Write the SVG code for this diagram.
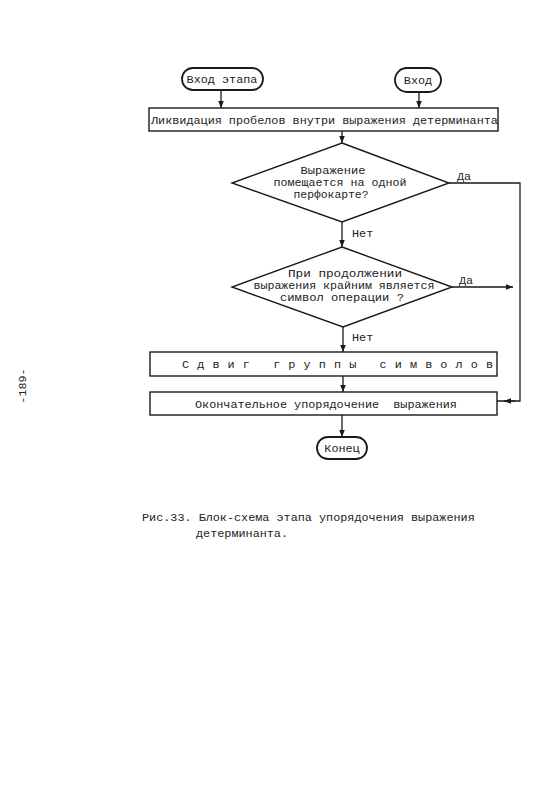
<svg xmlns="http://www.w3.org/2000/svg" width="560" height="800" viewBox="0 0 560 800">
<style>
.t{font-family:"Liberation Mono","DejaVu Sans Mono",monospace;font-size:11.8px;fill:#222;white-space:pre}
.d{font-size:10px}
.m{text-anchor:middle}
.s{fill:#fff;stroke:#1a1a1a;stroke-width:1.4}
.term{fill:#fff;stroke:#1a1a1a;stroke-width:1.8}
.c{fill:none;stroke:#1a1a1a;stroke-width:1.3}
</style>
<defs>
<marker id="ah" viewBox="0 0 10 10" refX="10" refY="5" markerWidth="7" markerHeight="7" markerUnits="userSpaceOnUse" orient="auto">
<path d="M0,1 L10,5 L0,9 Z" fill="#1a1a1a"/>
</marker>
</defs>
<rect width="560" height="800" fill="#fff"/>
<g id="connectors">
<line class="c" x1="221" y1="90" x2="221" y2="108" marker-end="url(#ah)"/>
<line class="c" x1="419" y1="92" x2="419" y2="108" marker-end="url(#ah)"/>
<line class="c" x1="342" y1="131" x2="342" y2="143" marker-end="url(#ah)"/>
<line class="c" x1="342" y1="222" x2="342" y2="247" marker-end="url(#ah)"/>
<line class="c" x1="343" y1="327" x2="343" y2="352" marker-end="url(#ah)"/>
<line class="c" x1="343" y1="376" x2="343" y2="392" marker-end="url(#ah)"/>
<line class="c" x1="342" y1="415" x2="342" y2="437" marker-end="url(#ah)"/>
<polyline class="c" points="449,183 520,183 520,401 497,401"/>
<line class="c" x1="515" y1="401" x2="504" y2="401" marker-end="url(#ah)"/>
<line class="c" x1="452" y1="287" x2="513" y2="287" marker-end="url(#ah)"/>
<text class="t" x="457" y="180">Да</text>
<text class="t" x="459" y="284">Да</text>
<text class="t" x="352" y="237">Нет</text>
<text class="t" x="352" y="341">Нет</text>
</g>
<g id="start1">
<rect class="term" x="182" y="68" width="81" height="22" rx="11"/>
<text class="t m" x="222" y="83">Вход этапа</text>
</g>
<g id="start2">
<rect class="term" x="395" y="68" width="46" height="24" rx="12"/>
<text class="t m" x="418" y="84">Вход</text>
</g>
<g id="box1">
<rect class="s" x="149" y="108" width="349" height="23"/>
<text class="t" x="151" y="124">Ликвидация пробелов внутри выражения детерминанта</text>
</g>
<g id="dec1">
<polygon class="s" points="342,143 449,183 342,222 232,183"/>
<text class="t d m" x="333" y="174" textLength="65" lengthAdjust="spacingAndGlyphs">Выражение</text>
<text class="t d m" x="340" y="186" textLength="133" lengthAdjust="spacingAndGlyphs">помещается на одной</text>
<text class="t d m" x="331" y="198" textLength="75" lengthAdjust="spacingAndGlyphs">перфокарте?</text>
</g>
<g id="dec2">
<polygon class="s" points="342,247 452,287 343,327 232,287"/>
<text class="t d m" x="345" y="277" textLength="114" lengthAdjust="spacingAndGlyphs">При продолжении</text>
<text class="t d m" x="344" y="289" textLength="181" lengthAdjust="spacingAndGlyphs">выражения крайним является</text>
<text class="t d m" x="342" y="301" textLength="124" lengthAdjust="spacingAndGlyphs">символ операции ?</text>
</g>
<g id="box3">
<rect class="s" x="150" y="352" width="347" height="24"/>
<text class="t" x="182" y="368" textLength="311" lengthAdjust="spacing">С д в и г   г р у п п ы   с и м в о л о в</text>
</g>
<g id="box4">
<rect class="s" x="150" y="392" width="347" height="23"/>
<text class="t" x="195" y="408">Окончательное упорядочение  выражения</text>
</g>
<g id="end">
<rect class="term" x="317" y="437" width="50" height="22" rx="11"/>
<text class="t m" x="342" y="452">Конец</text>
</g>
<g id="caption">
<text class="t" x="142" y="521">Рис.33. Блок-схема этапа упорядочения выражения</text>
<text class="t" x="196" y="537">детерминанта.</text>
</g>
<text class="t m" transform="translate(26,386) rotate(-90)">-189-</text>
</svg>
